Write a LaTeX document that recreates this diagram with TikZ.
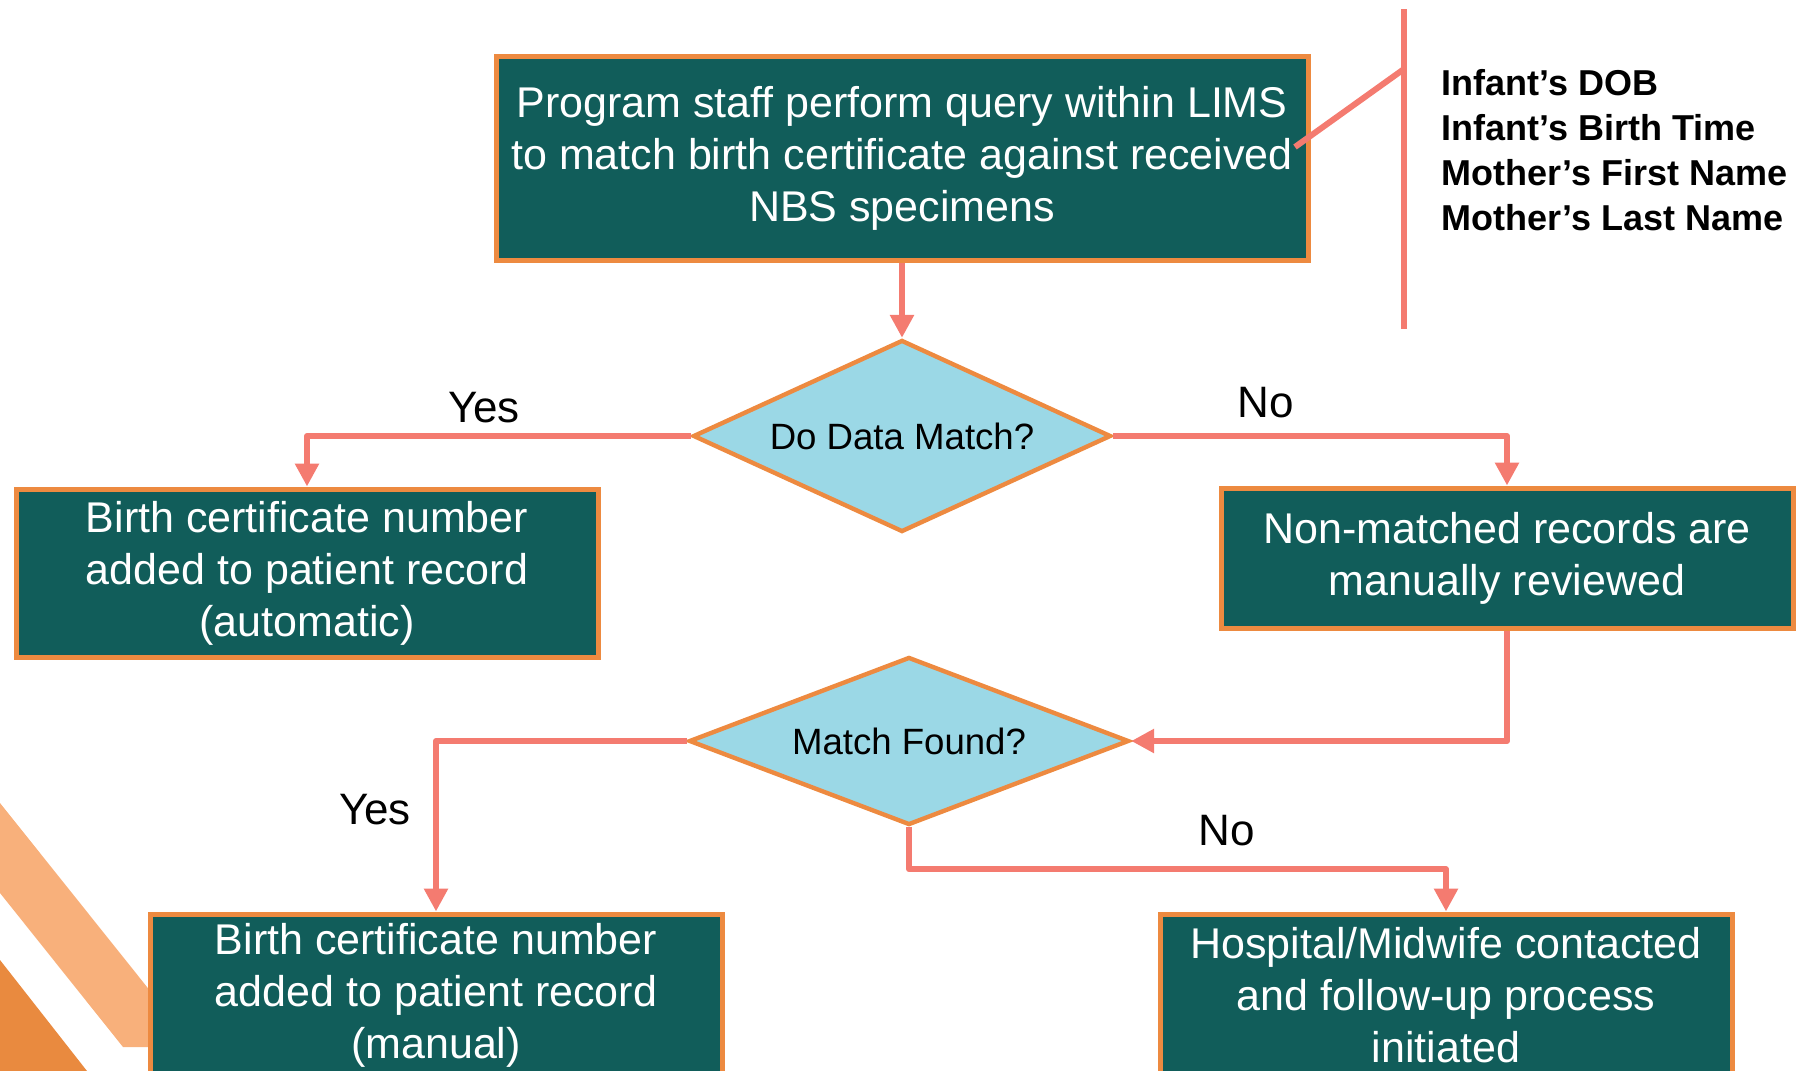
\documentclass[tikz,border=0pt]{standalone}
\usepackage{fontspec}
\setmainfont{Liberation Sans}
\usepackage{xcolor}
\usetikzlibrary{shapes.geometric,arrows.meta}

\definecolor{boxteal}{HTML}{115D5A}
\definecolor{edgeorange}{HTML}{ED8A40}
\definecolor{linksalmon}{HTML}{F47B70}
\definecolor{diablue}{HTML}{9BD8E6}
\definecolor{stripelight}{HTML}{F8B07B}
\definecolor{stripedark}{HTML}{E98A3F}

\begin{document}
\begin{tikzpicture}[x=0.5pt,y=-0.5pt,
        procbox/.style={rectangle,fill=boxteal,draw=edgeorange,line width=2.5pt,text=white,align=center,inner sep=0pt,font=\fontsize{21.5}{26}\selectfont,execute at begin node={\rule{0pt}{21pt}}},
        decision/.style={diamond,fill=diablue,draw=edgeorange,line width=2.2pt,inner sep=0pt,font=\fontsize{18.3}{21}\selectfont},
        link/.style={draw=linksalmon,line width=3pt,line join=round,-{Triangle[length=11.5pt,width=11.5pt]}},
        rule/.style={draw=linksalmon,line width=3pt},
        answer/.style={font=\fontsize{22}{26}\selectfont}]
        \useasboundingbox (0,0) rectangle (1810,1071);
        \clip (0,0) rectangle (1810,1071);

        \fill[stripelight] (0,803) -- (195,1047) -- (123,1047) -- (0,893) -- cycle;
        \fill[stripedark] (0,960) -- (87,1071) -- (0,1071) -- cycle;

        \node[procbox,minimum width=406pt,minimum height=102pt] (query) at (902,158) {Program staff perform query within LIMS\\to match birth certificate against received\\NBS specimens};
        \node[decision,aspect=2.18,minimum width=209pt,minimum height=96pt] (datamatch) at (902,436) {Do Data Match?};
        \node[procbox,minimum width=291pt,minimum height=84pt] (birthauto) at (307,573) {Birth certificate number\\added to patient record\\(automatic)};
        \node[procbox,minimum width=286pt,minimum height=70pt] (review) at (1507,558) {Non-matched records are\\manually reviewed};
        \node[decision,aspect=2.62,minimum width=220pt,minimum height=84pt] (matchfound) at (909,741) {Match Found?};
        \node[procbox,minimum width=286pt,minimum height=81pt] (birthmanual) at (436,995) {Birth certificate number\\added to patient record\\(manual)};
        \node[procbox,minimum width=286pt,minimum height=81pt] (hospital) at (1446,995) {Hospital/Midwife contacted\\and follow-up process\\initiated};

        \node[answer] (yesone) at (484,408) {Yes};
        \node[answer] (noone) at (1266,403) {No};
        \node[answer] (yestwo) at (375,810) {Yes};
        \node[answer] (notwo) at (1227,831) {No};

        \draw[link] (query.south) -- (datamatch.north);
        \draw[link] (datamatch.west) -| (birthauto.north);
        \draw[link] (datamatch.east) -| (review.north);
        \draw[link] (review.south) |- (matchfound.east);
        \draw[link] (matchfound.west) -| (birthmanual.north);
        \draw[link] (matchfound.south) -- ++(0,42) -| (hospital.north);

        \coordinate (bartop) at (1404,9);
        \coordinate (barbottom) at (1404,329);
        \coordinate (bartick) at (1404,69);
        \coordinate (tickend) at (1295,147);
        \draw[rule] (bartop) -- (barbottom);
        \draw[rule] (tickend) -- (bartick);
        \node[anchor=west,align=left,inner sep=0pt,font=\bfseries\fontsize{18}{22.5}\selectfont] (fields) at (1441,150) {Infant’s DOB\\Infant’s Birth Time\\Mother’s First Name\\Mother’s Last Name};
    \end{tikzpicture}
\end{document}
